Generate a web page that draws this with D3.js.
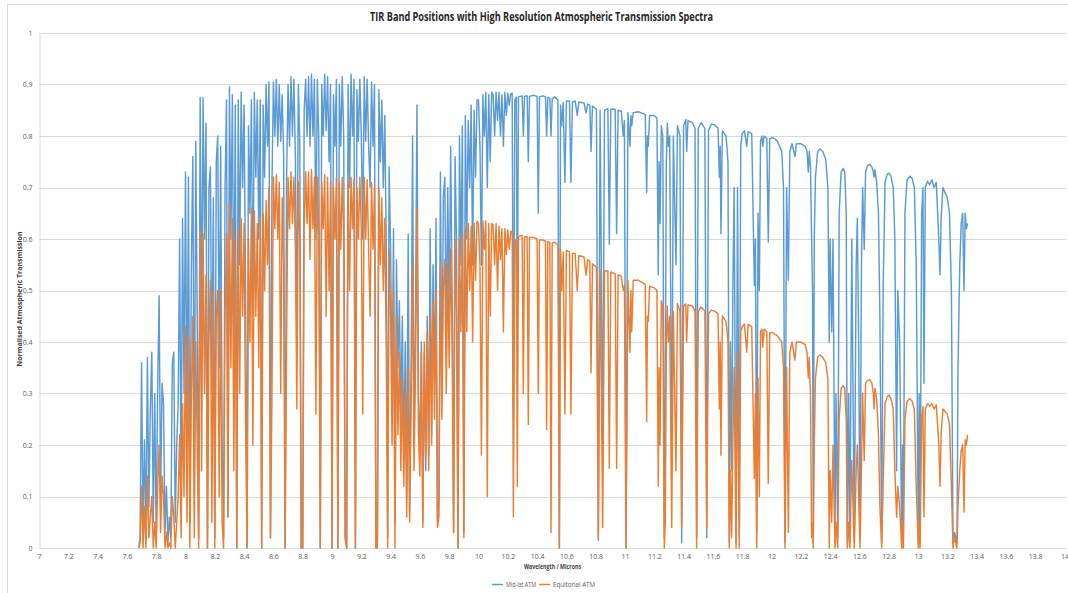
<!DOCTYPE html>
<html>
<head>
<meta charset="utf-8">
<script src="https://cdn.jsdelivr.net/npm/d3@7"></script>
<style>
  body { margin: 0; background: #fff; }
  svg { display: block; }
  text { font-family: "Open Sans", "Liberation Sans", sans-serif; }
</style>
</head>
<body>
<svg id="chart" width="1068" height="593"></svg>
<script>
// ---- Spectrum data: wavelength (microns) and normalised transmission ----

// Dense absorption region (water vapour / ozone band), sampled every 0.01 µm
const denseWavelengths = [
  7.68,7.69,
  7.70,7.71,7.72,7.73,7.74,7.75,7.76,7.77,7.78,7.79,
  7.80,7.81,7.82,7.83,7.84,7.85,7.86,7.87,7.88,7.89,
  7.90,7.91,7.92,7.93,7.94,7.95,7.96,7.97,7.98,7.99,
  8.00,8.01,8.02,8.03,8.04,8.05,8.06,8.07,8.08,8.09,
  8.10,8.11,8.12,8.13,8.14,8.15,8.16,8.17,8.18,8.19,
  8.20,8.21,8.22,8.23,8.24,8.25,8.26,8.27,8.28,8.29,
  8.30,8.31,8.32,8.33,8.34,8.35,8.36,8.37,8.38,8.39,
  8.40,8.41,8.42,8.43,8.44,8.45,8.46,8.47,8.48,8.49,
  8.50,8.51,8.52,8.53,8.54,8.55,8.56,8.57,8.58,8.59,
  8.60,8.61,8.62,8.63,8.64,8.65,8.66,8.67,8.68,8.69,
  8.70,8.71,8.72,8.73,8.74,8.75,8.76,8.77,8.78,8.79,
  8.80,8.81,8.82,8.83,8.84,8.85,8.86,8.87,8.88,8.89,
  8.90,8.91,8.92,8.93,8.94,8.95,8.96,8.97,8.98,8.99,
  9.00,9.01,9.02,9.03,9.04,9.05,9.06,9.07,9.08,9.09,
  9.10,9.11,9.12,9.13,9.14,9.15,9.16,9.17,9.18,9.19,
  9.20,9.21,9.22,9.23,9.24,9.25,9.26,9.27,9.28,9.29,
  9.30,9.31,9.32,9.33,9.34,9.35,9.36,9.37,9.38,9.39,
  9.40,9.41,9.42,9.43,9.44,9.45,9.46,9.47,9.48,9.49,
  9.50,9.51,9.52,9.53,9.54,9.55,9.56,9.57,9.58,9.59,
  9.60,9.61,9.62,9.63,9.64,9.65,9.66,9.67,9.68,9.69,
  9.70,9.71,9.72,9.73,9.74,9.75,9.76,9.77,9.78,9.79,
  9.80,9.81,9.82,9.83,9.84,9.85,9.86,9.87,9.88,9.89,
  9.90,9.91,9.92,9.93,9.94,9.95,9.96,9.97,9.98,9.99,
  10.00,10.01,10.02,10.03,10.04,10.05,10.06,10.07,10.08,10.09,
  10.10,10.11,10.12,10.13,10.14,10.15,10.16,10.17,10.18,10.19,
  10.20,10.21,10.22
];

const denseMidLat = [
  0,0.02,
  0.36,0.03,0.21,0.02,0.37,0.08,0.27,0.38,0.05,0.30,
  0.02,0.31,0.49,0.10,0.32,0.28,0.03,0.12,0.01,0.06,
  0.02,0.36,0.38,0.05,0.20,0.28,0.60,0.12,0.64,0.30,
  0.73,0.20,0.72,0.05,0.55,0.76,0.10,0.79,0.45,0.02,
  0.875,0.40,0.875,0.60,0.825,0.00,0.70,0.74,0.30,0.68,
  0.02,0.75,0.80,0.35,0.78,0.20,0.02,0.70,0.87,0.06,
  0.895,0.60,0.88,0.40,0.86,0.00,0.87,0.55,0.885,0.70,
  0.86,0.50,0.00,0.82,0.65,0.87,0.45,0.885,0.72,0.87,
  0.60,0.87,0.00,0.86,0.72,0.90,0.78,0.905,0.02,0.70,
  0.905,0.80,0.91,0.78,0.90,0.79,0.88,0.76,0.00,0.72,
  0.90,0.78,0.915,0.80,0.91,0.76,0.40,0.90,0.79,0.00,
  0.00,0.85,0.91,0.80,0.915,0.78,0.92,0.80,0.91,0.60,
  0.91,0.79,0.00,0.90,0.80,0.92,0.81,0.915,0.75,0.90,
  0.00,0.88,0.78,0.91,0.00,0.90,0.78,0.915,0.80,0.02,
  0.00,0.90,0.70,0.92,0.80,0.91,0.00,0.89,0.79,0.91,
  0.80,0.60,0.915,0.79,0.91,0.78,0.70,0.905,0.78,0.90,
  0.00,0.02,0.89,0.75,0.87,0.70,0.84,0.60,0.02,0.74,
  0.58,0.30,0.62,0.05,0.56,0.35,0.48,0.25,0.45,0.18,
  0.40,0.10,0.61,0.07,0.35,0.80,0.20,0.45,0.86,0.30,
  0.18,0.40,0.05,0.38,0.15,0.45,0.18,0.62,0.22,0.55,
  0.30,0.64,0.05,0.10,0.73,0.30,0.68,0.72,0.40,0.70,
  0.45,0.78,0.50,0.03,0.76,0.60,0.00,0.80,0.55,0.82,
  0.03,0.84,0.60,0.83,0.70,0.86,0.55,0.85,0.72,0.87,
  0.87,0.78,0.55,0.88,0.80,0.885,0.70,0.88,0.75,0.885,
  0.88,0.80,0.885,0.83,0.885,0.80,0.88,0.78,0.885,0.84,
  0.883,0.86,0.882
];

const denseEquatorial = [
  0,0.01,
  0.12,0.00,0.08,0.00,0.14,0.02,0.06,0.10,0.00,0.05,
  0.00,0.12,0.20,0.03,0.14,0.10,0.00,0.03,0.00,0.01,
  0.00,0.10,0.06,0.00,0.05,0.10,0.22,0.02,0.28,0.10,
  0.43,0.05,0.41,0.00,0.30,0.45,0.02,0.40,0.20,0.00,
  0.62,0.15,0.61,0.30,0.53,0.00,0.40,0.52,0.05,0.50,
  0.00,0.45,0.50,0.10,0.50,0.05,0.00,0.45,0.61,0.06,
  0.67,0.35,0.64,0.15,0.60,0.00,0.62,0.30,0.64,0.45,
  0.63,0.25,0.00,0.60,0.40,0.66,0.20,0.655,0.45,0.63,
  0.35,0.64,0.00,0.65,0.50,0.675,0.55,0.70,0.02,0.29,
  0.72,0.62,0.725,0.60,0.71,0.30,0.68,0.55,0.00,0.40,
  0.72,0.62,0.73,0.63,0.72,0.58,0.27,0.71,0.60,0.00,
  0.00,0.62,0.73,0.63,0.73,0.56,0.735,0.62,0.72,0.26,
  0.72,0.60,0.00,0.71,0.62,0.725,0.45,0.72,0.50,0.71,
  0.00,0.70,0.60,0.72,0.00,0.71,0.58,0.72,0.60,0.02,
  0.00,0.71,0.50,0.72,0.62,0.715,0.00,0.70,0.60,0.72,
  0.62,0.26,0.72,0.60,0.715,0.58,0.45,0.71,0.58,0.70,
  0.00,0.00,0.70,0.55,0.68,0.50,0.64,0.40,0.00,0.58,
  0.45,0.20,0.50,0.00,0.45,0.22,0.38,0.15,0.33,0.12,
  0.30,0.06,0.35,0.05,0.28,0.55,0.15,0.35,0.66,0.22,
  0.14,0.38,0.04,0.40,0.18,0.42,0.15,0.45,0.20,0.48,
  0.25,0.50,0.04,0.06,0.55,0.25,0.50,0.56,0.30,0.55,
  0.35,0.58,0.40,0.03,0.60,0.45,0.00,0.60,0.42,0.61,
  0.02,0.62,0.42,0.63,0.50,0.625,0.40,0.63,0.52,0.635,
  0.63,0.55,0.18,0.635,0.58,0.635,0.10,0.63,0.45,0.63,
  0.628,0.55,0.63,0.50,0.625,0.56,0.62,0.42,0.62,0.57,
  0.618,0.58,0.615
];

// Long-wave window: continuum with isolated water-vapour lines
const windowWavelengths = [
  10.230,10.238,10.248,10.258,10.265,10.273,10.298,10.306,10.314,10.332,
  10.340,10.348,10.375,10.400,10.408,10.416,10.440,10.457,10.465,10.473,
  10.487,10.495,10.503,10.520,10.542,10.552,10.560,10.568,10.578,10.590,
  10.600,10.621,10.631,10.641,10.660,10.674,10.685,10.720,10.734,10.745,
  10.760,10.768,10.778,10.805,10.818,10.830,10.848,10.860,10.883,10.893,
  10.903,10.933,10.943,10.953,10.975,10.988,10.996,11.007,11.020,11.034,
  11.040,11.046,11.056,11.090,11.138,11.148,11.153,11.159,11.168,11.200,
  11.218,11.227,11.233,11.239,11.248,11.258,11.268,11.275,11.282,11.289,
  11.296,11.305,11.319,11.330,11.348,11.358,11.375,11.387,11.400,11.415,
  11.421,11.430,11.460,11.478,11.489,11.500,11.520,11.545,11.558,11.570,
  11.590,11.610,11.635,11.644,11.650,11.655,11.665,11.690,11.703,11.712,
  11.720,11.728,11.736,11.745,11.758,11.768,11.780,11.790,11.800,11.815,
  11.831,11.840,11.865,11.883,11.890,11.899,11.908,11.917,11.925,11.935,
  11.940,11.950,11.968,11.978,11.988,12.010,12.040,12.070,12.082,12.092,
  12.103,12.115,12.125,12.140,12.160,12.170,12.200,12.230,12.243,12.251,
  12.258,12.266,12.274,12.280,12.285,12.292,12.300,12.315,12.330,12.350,
  12.370,12.385,12.394,12.400,12.411,12.420,12.433,12.440,12.452,12.462,
  12.475,12.490,12.500,12.510,12.518,12.527,12.535,12.548,12.565,12.578,
  12.586,12.595,12.604,12.614,12.622,12.633,12.642,12.655,12.670,12.685,
  12.695,12.700,12.706,12.718,12.730,12.740,12.752,12.762,12.775,12.790,
  12.802,12.815,12.831,12.842,12.854,12.862,12.875,12.889,12.895,12.900,
  12.911,12.925,12.945,12.960,12.975,12.988,13.002,13.008,13.014,13.025,
  13.034,13.041,13.050,13.065,13.080,13.095,13.110,13.125,13.142,13.150,
  13.158,13.170,13.185,13.200,13.215,13.228,13.239,13.250,13.266,13.273,
  13.285,13.295,13.305,13.314,13.322,13.330,13.339
];

const windowMidLat = [
  0.883,0.25,0.87,0.875,0.45,0.876,0.878,0.80,0.877,0.878,
  0.75,0.877,0.879,0.877,0.65,0.876,0.878,0.876,0.80,0.875,
  0.873,0.80,0.872,0.876,0.870,0.00,0.860,0.82,0.865,0.71,
  0.868,0.868,0.71,0.866,0.868,0.84,0.866,0.864,0.845,0.862,
  0.860,0.77,0.858,0.852,0.015,0.850,0.19,0.850,0.853,0.59,
  0.852,0.852,0.61,0.850,0.848,0.80,0.83,0.00,0.845,0.78,
  0.84,0.82,0.845,0.847,0.842,0.69,0.80,0.78,0.840,0.840,
  0.835,0.53,0.75,0.63,0.82,0.80,0.02,0.30,0.75,0.825,
  0.78,0.80,0.15,0.80,0.55,0.82,0.80,0.01,0.82,0.832,
  0.77,0.830,0.826,0.815,0.02,0.815,0.826,0.815,0.02,0.810,
  0.823,0.822,0.815,0.72,0.78,0.61,0.810,0.800,0.75,0.01,
  0.40,0.15,0.50,0.70,0.01,0.70,0.02,0.78,0.805,0.810,
  0.78,0.808,0.805,0.51,0.60,0.03,0.65,0.50,0.79,0.800,
  0.78,0.800,0.795,0.594,0.795,0.797,0.790,0.770,0.70,0.01,
  0.70,0.52,0.77,0.785,0.76,0.785,0.785,0.780,0.770,0.73,
  0.77,0.74,0.60,0.50,0.01,0.60,0.72,0.77,0.775,0.77,
  0.755,0.70,0.40,0.60,0.42,0.60,0.02,0.30,0.02,0.65,
  0.73,0.737,0.73,0.65,0.01,0.30,0.01,0.60,0.01,0.55,
  0.64,0.40,0.02,0.55,0.70,0.58,0.73,0.742,0.745,0.74,
  0.73,0.72,0.735,0.71,0.65,0.45,0.01,0.50,0.71,0.726,
  0.728,0.722,0.70,0.60,0.15,0.50,0.40,0.01,0.20,0.01,
  0.65,0.715,0.722,0.718,0.70,0.55,0.01,0.30,0.01,0.65,
  0.70,0.32,0.70,0.712,0.705,0.715,0.70,0.71,0.60,0.53,
  0.64,0.70,0.69,0.68,0.65,0.50,0.01,0.03,0.01,0.35,
  0.55,0.63,0.65,0.50,0.65,0.62,0.63
];

const windowEquatorial = [
  0.615,0.06,0.59,0.60,0.12,0.605,0.607,0.30,0.605,0.604,
  0.24,0.603,0.603,0.600,0.30,0.598,0.598,0.596,0.23,0.595,
  0.593,0.03,0.592,0.594,0.588,0.00,0.580,0.50,0.575,0.26,
  0.578,0.575,0.26,0.572,0.572,0.50,0.568,0.565,0.53,0.560,
  0.556,0.34,0.552,0.545,0.02,0.540,0.04,0.538,0.538,0.155,
  0.536,0.532,0.155,0.530,0.528,0.50,0.51,0.00,0.520,0.38,
  0.50,0.42,0.520,0.520,0.512,0.245,0.45,0.44,0.508,0.505,
  0.500,0.12,0.35,0.20,0.48,0.47,0.00,0.05,0.40,0.470,
  0.40,0.45,0.04,0.46,0.15,0.475,0.46,0.04,0.470,0.474,
  0.40,0.472,0.470,0.460,0.00,0.460,0.468,0.460,0.04,0.455,
  0.462,0.460,0.455,0.27,0.40,0.18,0.450,0.440,0.40,0.00,
  0.15,0.02,0.20,0.35,0.00,0.38,0.00,0.42,0.430,0.435,
  0.38,0.434,0.430,0.135,0.30,0.00,0.33,0.10,0.42,0.425,
  0.39,0.425,0.420,0.125,0.418,0.418,0.412,0.400,0.35,0.00,
  0.35,0.03,0.38,0.400,0.365,0.400,0.400,0.395,0.380,0.33,
  0.37,0.30,0.02,0.05,0.00,0.20,0.33,0.37,0.375,0.37,
  0.36,0.33,0.00,0.15,0.05,0.20,0.00,0.05,0.00,0.25,
  0.31,0.315,0.31,0.25,0.00,0.05,0.00,0.17,0.00,0.15,
  0.20,0.10,0.00,0.15,0.30,0.17,0.32,0.325,0.327,0.32,
  0.30,0.27,0.31,0.29,0.22,0.08,0.00,0.12,0.28,0.294,
  0.297,0.29,0.27,0.15,0.06,0.12,0.08,0.00,0.05,0.00,
  0.25,0.285,0.29,0.285,0.27,0.12,0.00,0.05,0.00,0.25,
  0.275,0.06,0.27,0.28,0.275,0.28,0.27,0.278,0.20,0.12,
  0.22,0.27,0.265,0.26,0.24,0.12,0.00,0.02,0.00,0.08,
  0.15,0.19,0.20,0.07,0.21,0.20,0.22
];

// Axis ticks and legend
const xTickValues = [7,7.2,7.4,7.6,7.8,8,8.2,8.4,8.6,8.8,9,9.2,9.4,9.6,9.8,10,10.2,10.4,10.6,10.8,11,11.2,11.4,11.6,11.8,12,12.2,12.4,12.6,12.8,13,13.2,13.4,13.6,13.8,14];
const yTickValues = [0,0.1,0.2,0.3,0.4,0.5,0.6,0.7,0.8,0.9,1];
const seriesNames = ["Mid-lat ATM", "Equitorial ATM"];
const seriesColors = ["#5B9BD5", "#ED7D31"];

// ---- Build series ----
const wavelengths = denseWavelengths.concat(windowWavelengths);
const midLat = denseMidLat.concat(windowMidLat);
const equatorial = denseEquatorial.concat(windowEquatorial);
const series = [midLat, equatorial].map((vals, i) => ({
  name: seriesNames[i],
  color: seriesColors[i],
  points: wavelengths.map((w, j) => ({ w, v: vals[j] }))
}));

// ---- Layout ----
const svg = d3.select("#chart");
const plot = { left: 39, right: 1064.5, top: 33, bottom: 548 };
const x = d3.scaleLinear().domain([7, 14]).range([plot.left, plot.right]);
const y = d3.scaleLinear().domain([0, 1]).range([plot.bottom, plot.top]);

// chart frame
svg.append("rect")
  .attr("x", 7.5).attr("y", 4.5)
  .attr("width", 1100).attr("height", 620)
  .attr("fill", "#fff").attr("stroke", "#d9d9d9").attr("stroke-width", 1);

// horizontal gridlines
svg.append("g").selectAll("line")
  .data(yTickValues.filter(d => d > 0))
  .join("line")
  .attr("x1", plot.left).attr("x2", 1066)
  .attr("y1", d => Math.round(y(d)) + 0.5).attr("y2", d => Math.round(y(d)) + 0.5)
  .attr("stroke", "#d9d9d9").attr("stroke-width", 1);

// axes
const xAxis = svg.append("g")
  .attr("transform", `translate(0,${plot.bottom + 0.5})`)
  .call(d3.axisBottom(x).tickValues(xTickValues).tickSize(0).tickPadding(6)
        .tickFormat(d => String(+d.toFixed(1))));
xAxis.select(".domain").attr("stroke", "#d9d9d9").attr("d", `M${plot.left},0H1066`);
xAxis.selectAll("text").attr("fill", "#595959").attr("font-size", 7);

const yAxis = svg.append("g")
  .attr("transform", `translate(${plot.left + 0.5},0)`)
  .call(d3.axisLeft(y).tickValues(yTickValues).tickSize(0).tickPadding(7)
        .tickFormat(d => String(+d.toFixed(1))));
yAxis.select(".domain").attr("stroke", "#d9d9d9");
yAxis.selectAll("text").attr("fill", "#595959").attr("font-size", 7);

// spectra
const line = d3.line().x(d => x(d.w)).y(d => y(d.v));
svg.append("g").selectAll("path")
  .data(series)
  .join("path")
  .attr("d", d => line(d.points))
  .attr("fill", "none")
  .attr("stroke", d => d.color)
  .attr("stroke-width", 1.45)
  .attr("stroke-linejoin", "round");

// title
svg.append("text")
  .attr("x", 541.5).attr("y", 21)
  .attr("text-anchor", "middle")
  .attr("font-size", 12).attr("font-weight", "bold").attr("fill", "#262626")
  .attr("textLength", 343).attr("lengthAdjust", "spacingAndGlyphs")
  .text("TIR Band Positions with High Resolution Atmospheric Transmission Spectra");

// axis titles
svg.append("text")
  .attr("x", 552.5).attr("y", 569)
  .attr("text-anchor", "middle")
  .attr("font-size", 7).attr("font-weight", "bold").attr("fill", "#404040")
  .attr("textLength", 57).attr("lengthAdjust", "spacingAndGlyphs")
  .text("Wavelength / Microns");

svg.append("text")
  .attr("transform", "translate(22,299) rotate(-90)")
  .attr("text-anchor", "middle")
  .attr("font-size", 7).attr("font-weight", "bold").attr("fill", "#404040")
  .attr("textLength", 135).attr("lengthAdjust", "spacingAndGlyphs")
  .text("Normalised Atmospheric Transmission");

// legend
const legendItems = [
  { name: seriesNames[0], color: seriesColors[0], x0: 492, tx: 506, len: 30 },
  { name: seriesNames[1], color: seriesColors[1], x0: 539, tx: 553, len: 42 }
];
const legend = svg.append("g");
legend.selectAll("line").data(legendItems).join("line")
  .attr("x1", d => d.x0).attr("x2", d => d.x0 + 11)
  .attr("y1", 584.5).attr("y2", 584.5)
  .attr("stroke", d => d.color).attr("stroke-width", 1.5);
legend.selectAll("text").data(legendItems).join("text")
  .attr("x", d => d.tx).attr("y", 587)
  .attr("font-size", 7).attr("fill", "#595959")
  .attr("textLength", d => d.len).attr("lengthAdjust", "spacingAndGlyphs")
  .text(d => d.name);
</script>
</body>
</html>
